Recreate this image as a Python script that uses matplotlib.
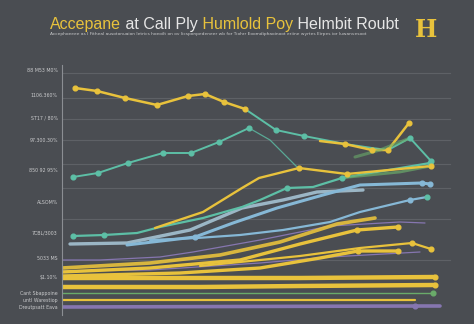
import matplotlib
matplotlib.use("Agg")
import matplotlib.pyplot as plt

BG = "#4a4d52"
GOLD = "#e8c23c"
TEAL = "#5dbfa6"
BLUE = "#86b8d6"
PALE = "#a5c2d2"
PURPLE = "#8676b0"
GREEN = "#6aab6a"
LIGHT = "#e6e6e6"
LABEL = "#c9cacc"
GRID = "#5e6166"

# y tick positions and their labels
tick_pos = [98, 88, 79, 70, 58, 45, 33, 23, 15, 9, 6, 3]
tick_text = ["88 M53 M0%", "1106.360%", "ST17 / 80%", "97.300.30%", "850 92 95%",
             "ALSOM%", "7CBL/3003", "5033 MS", "$1.10%", "Cant Sbappoine",
             "untl Warestiop", "Dreutpsatt Eava"]
grid_levels = [96.8, 86.8, 78.4, 70.0, 60.4, 50.8, 38.4, 22.0]

# upper series
gold_top_x = [0.65, 1.75, 3.15, 4.75, 6.3, 7.15, 8.1, 9.15]
gold_top_y = [90.8, 89.6, 86.8, 84.0, 87.6, 88.4, 85.2, 82.4]
teal_top_x = [9.15, 10.7, 12.1, 13.4, 14.15, 15.5, 16.3, 17.4, 18.45]
teal_top_y = [82.4, 74.0, 71.6, 69.6, 68.4, 66.8, 66.0, 70.8, 61.6]
gold_tail_x = [12.9, 14.15, 15.5, 16.3, 17.35]
gold_tail_y = [69.6, 68.4, 66.0, 66.0, 76.8]
teal_drop_x = [9.35, 10.4, 11.8]
teal_drop_y = [74.8, 70.0, 58.8]
teal_mid_x = [0.55, 1.8, 3.3, 5.05, 6.45, 7.85, 9.35]
teal_mid_y = [55.2, 56.8, 60.8, 64.8, 64.8, 69.2, 74.8]
green_top_x = [14.65, 15.9, 17.4]
green_top_y = [63.2, 66.0, 70.8]

# middle series
gold_mid_x = [4.65, 7.05, 9.0, 9.85, 11.85, 14.25, 18.45]
gold_mid_y = [34.8, 41.2, 50.8, 54.8, 58.8, 56.4, 59.6]
green_mid_x = [13.9, 16.9, 18.45]
green_mid_y = [54.8, 57.2, 59.6]
teal_low_x = [0.55, 2.1, 3.75, 4.9, 7.05, 9.0, 9.9, 11.25, 12.55, 14.0, 15.15, 18.4]
teal_low_y = [31.6, 32.0, 32.8, 35.2, 38.8, 43.2, 46.0, 50.8, 51.2, 54.8, 56.4, 60.8]
pale_x = [0.4, 3.25, 6.4, 9.0, 11.05, 12.75, 15.05]
pale_y = [28.4, 28.8, 34.0, 42.8, 46.0, 49.2, 50.0]
blue_x = [3.25, 6.65, 8.55, 10.75, 13.05, 14.9, 18.0, 18.4]
blue_y = [28.0, 31.2, 36.8, 42.8, 48.0, 52.0, 52.8, 52.4]
blue_low_x = [4.4, 6.75, 8.9, 11.05, 13.4, 14.9, 17.4, 18.25]
blue_low_y = [30.0, 30.8, 32.0, 34.0, 37.2, 41.2, 46.0, 47.2]

# lower bundle
purple_a_x = [0, 1.9, 4.9, 6.55, 9.9, 13.4, 16.9, 18.15]
purple_a_y = [22.0, 22.0, 23.2, 25.2, 30.0, 35.6, 37.2, 36.8]
purple_b_x = [0, 4.4, 9.9, 13.4, 17.9]
purple_b_y = [17.6, 18.0, 20.8, 23.2, 25.2]
gold_a_x = [0, 4.4, 7.9, 10.9, 13.75, 15.65]
gold_a_y = [18.8, 20.8, 24.0, 29.2, 36.4, 38.8]
gold_b_x = [0, 4.4, 8.9, 11.9, 14.75, 16.8]
gold_b_y = [17.2, 18.8, 22.0, 28.4, 34.0, 35.2]
gold_c_x = [0, 5.9, 9.9, 12.9, 14.8, 16.8]
gold_c_y = [15.6, 16.8, 18.8, 22.8, 25.6, 25.6]
gold_d_x = [6.9, 11.9, 14.9, 17.5, 18.45]
gold_d_y = [19.6, 23.6, 26.8, 28.8, 26.4]
flat_x = [0, 6.9, 11.9, 18.65]
gold_flat1_y = [14.8, 14.8, 14.8, 15.2]
gold_flat2_y = [11.2, 11.2, 11.6, 12.0]
green_flat_x = [0, 18.55]
green_flat_y = [8.8, 8.8]
gold_thin_x = [0, 17.65]
gold_thin_y = [6.0, 6.0]
purple_flat_x = [0, 17.65, 18.9]
purple_flat_y = [3.2, 3.6, 3.6]

fig = plt.figure(figsize=(4.74, 3.24), dpi=100, facecolor=BG)
ax = fig.add_axes([62 / 474, 9 / 324, 400 / 474, 250 / 324], facecolor=BG)
ax.set_xlim(0, 20)
ax.set_ylim(0, 100)

for g in grid_levels:
    ax.axhline(g, xmax=0.97, color=GRID, lw=0.8, zorder=0)


def line(x, y, color, lw, marks=None, alpha=1.0, ms=3.4):
    ax.plot(x, y, color=color, lw=lw, alpha=alpha, solid_capstyle="round", zorder=2)
    if marks:
        ax.plot([x[i] for i in marks], [y[i] for i in marks], "o", color=color,
                ms=ms, alpha=alpha, zorder=3)


line(gold_top_x, gold_top_y, GOLD, 1.8, marks=range(len(gold_top_x)))
line(teal_drop_x, teal_drop_y, TEAL, 0.9, alpha=0.8)
line(teal_top_x, teal_top_y, TEAL, 1.4, marks=[1, 2, 7, 8])
line(gold_tail_x, gold_tail_y, GOLD, 1.8, marks=[1, 2, 3, 4])
line(green_top_x, green_top_y, GREEN, 2.2, alpha=0.6)
line(teal_mid_x, teal_mid_y, TEAL, 1.4, marks=range(len(teal_mid_x)))

line(pale_x, pale_y, PALE, 2.4, alpha=0.9)
line(blue_low_x, blue_low_y, BLUE, 1.6, marks=[6])
ax.plot(blue_low_x[-1], blue_low_y[-1], "o", color=TEAL, ms=3.4, zorder=3)
line(blue_x, blue_y, BLUE, 2.2, marks=[1, 6, 7])
line(teal_low_x, teal_low_y, TEAL, 1.6, marks=[0, 1, 7, 9, 11])
line(green_mid_x, green_mid_y, GREEN, 2.0, alpha=0.7)
line(gold_mid_x, gold_mid_y, GOLD, 1.7, marks=[4, 5, 6])

line(purple_a_x, purple_a_y, PURPLE, 0.9)
line(purple_b_x, purple_b_y, PURPLE, 0.9)
line(gold_a_x, gold_a_y, GOLD, 2.6, alpha=0.9)
line(gold_b_x, gold_b_y, GOLD, 2.4, marks=[4, 5])
line(gold_c_x, gold_c_y, GOLD, 2.4, marks=[4, 5])
line(gold_d_x, gold_d_y, GOLD, 1.6, marks=[3, 4])
line(flat_x, gold_flat1_y, GOLD, 3.2, marks=[3])
line(flat_x, gold_flat2_y, GOLD, 3.2, marks=[3])
line(green_flat_x, green_flat_y, GREEN, 1.0, marks=[1])
line(gold_thin_x, gold_thin_y, GOLD, 1.6)
line(purple_flat_x, purple_flat_y, PURPLE, 2.6, marks=[1])

ax.set_xticks([])
ax.set_yticks(tick_pos)
ax.set_yticklabels(tick_text, fontsize=3.4, color=LABEL)
ax.tick_params(axis="y", length=0, pad=3)
for side in ("top", "right", "bottom"):
    ax.spines[side].set_visible(False)
ax.spines["left"].set_color("#8b8e93")
ax.spines["left"].set_linewidth(0.8)

# two-tone headline, pieces chained end to end
parts = [("Accepane", GOLD), (" at Call Ply", LIGHT), (" Humlold Poy", GOLD),
         (" Helmbit Roubt", LIGHT)]
t = fig.text(50 / 474, 1 - 29 / 324, parts[0][0], color=parts[0][1],
             fontsize=11.5, family="Liberation Sans", va="baseline")
for s, c in parts[1:]:
    t = ax.annotate(s, xy=(1, 0), xycoords=t, va="bottom", color=c,
                    fontsize=11.5, family="Liberation Sans", annotation_clip=False)

fig.text(50 / 474, 1 - 35 / 324,
         "Accephoeeee as I Fitheal ausotonuaion letrics hoeoilt on ov licsponpedeneer "
         "wb for Tiohrr Eoomdiphaoinoot eriine wyrtes Eirpes ior Iuwanvesoot",
         color=LABEL, fontsize=3.2, va="baseline")

fig.text(426 / 474, 1 - 30 / 324, "H", color=GOLD, fontsize=17, family="DejaVu Serif",
         weight="bold", ha="center", va="center")

fig.savefig("out.png", dpi=100, facecolor=BG)
